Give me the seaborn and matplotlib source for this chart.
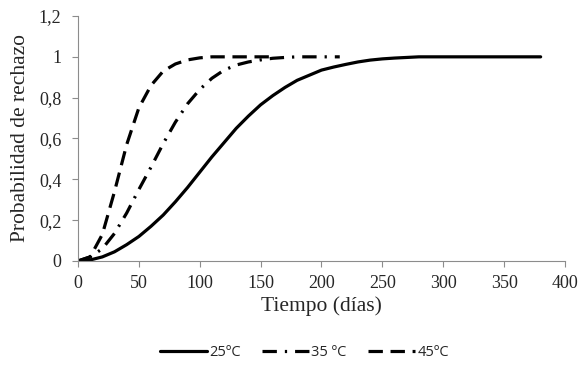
import pandas as pd
import seaborn as sns
import matplotlib.pyplot as plt

# Datos: probabilidad de rechazo vs tiempo
dias_25 = [0, 10, 20, 30, 40, 50, 60, 70, 80, 90, 100, 110, 120, 130, 140, 150, 160,
           170, 180, 190, 200, 210, 220, 230, 240, 250, 260, 270, 280, 300, 320, 340, 360, 380]
prob_25 = [0, 0.005, 0.02, 0.045, 0.08, 0.12, 0.17, 0.225, 0.29, 0.36, 0.435, 0.51, 0.58,
           0.65, 0.71, 0.765, 0.81, 0.85, 0.885, 0.91, 0.935, 0.95, 0.963, 0.975, 0.984,
           0.99, 0.994, 0.997, 1, 1, 1, 1, 1, 1]

dias_35 = [0, 10, 20, 30, 40, 50, 60, 70, 80, 90, 100, 110, 120, 130, 140, 150, 160,
           170, 180, 200, 215]
prob_35 = [0, 0.02, 0.06, 0.135, 0.235, 0.35, 0.46, 0.575, 0.68, 0.77, 0.84, 0.895,
           0.935, 0.96, 0.975, 0.985, 0.993, 0.997, 1, 1, 1]

dias_45 = [0, 10, 20, 30, 40, 50, 60, 70, 80, 90, 100, 110, 120, 140, 160]
prob_45 = [0, 0.02, 0.13, 0.34, 0.57, 0.75, 0.86, 0.93, 0.965, 0.985, 0.995, 1, 1, 1, 1]

etiquetas = ['25ºC', '35 ºC', '45ºC']

df = pd.concat([
    pd.DataFrame({'dias': dias_25, 'prob': prob_25, 'serie': etiquetas[0]}),
    pd.DataFrame({'dias': dias_35, 'prob': prob_35, 'serie': etiquetas[1]}),
    pd.DataFrame({'dias': dias_45, 'prob': prob_45, 'serie': etiquetas[2]}),
])

sns.set_style('white')
plt.rcParams['font.family'] = ['Liberation Serif', 'DejaVu Serif']

fig = plt.figure(figsize=(5.85, 3.68), dpi=100)
ax = fig.add_axes([0.1333, 0.2908, 0.8325, 0.6657])

sns.lineplot(
    data=df, x='dias', y='prob', style='serie',
    dashes={etiquetas[0]: '', etiquetas[1]: (4.5, 2.5, 0.7, 2.5), etiquetas[2]: (4.5, 2.4)},
    color='black', linewidth=2.3, sort=False, legend=True, ax=ax
)

ax.set_xlim(0, 400)
ax.set_ylim(0, 1.2)
ax.set_xticks(range(0, 401, 50))
ax.set_yticks([0, 0.2, 0.4, 0.6, 0.8, 1.0, 1.2])
ax.set_yticklabels(['0', '0,2', '0,4', '0,6', '0,8', '1', '1,2'])
ax.tick_params(axis='x', pad=6)
ax.tick_params(axis='y', pad=8)
ax.tick_params(axis='both', labelsize=13, length=4, width=0.8, color='#8c8c8c',
               direction='out', bottom=True, left=True)
ax.set_xlabel('Tiempo (días)', fontsize=15.5, labelpad=3)
ax.set_ylabel('Probabilidad de rechazo', fontsize=15.5, labelpad=6)

for lado in ['top', 'right']:
    ax.spines[lado].set_visible(False)
for lado in ['left', 'bottom']:
    ax.spines[lado].set_color('#8c8c8c')
    ax.spines[lado].set_linewidth(0.8)

handles, labels = ax.get_legend_handles_labels()
ax.legend(handles, labels, loc='center', bbox_to_anchor=(0.465, -0.375), ncol=3,
          frameon=False, handlelength=3.2, columnspacing=1.5, handletextpad=0.15,
          prop={'family': 'Open Sans', 'size': 10.5})

plt.savefig('out.png', dpi=100)
